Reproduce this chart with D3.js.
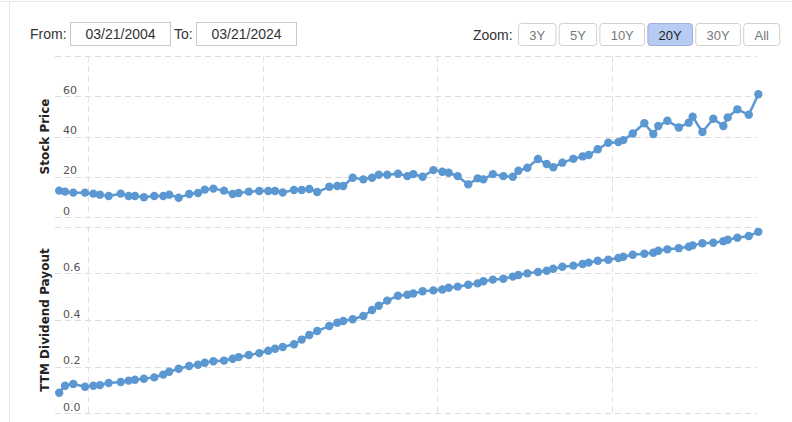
<!DOCTYPE html>
<html>
<head>
<meta charset="utf-8">
<script src="https://cdn.jsdelivr.net/npm/d3@7"></script>
<style>
  body { margin: 0; background: #fff; }
  svg { display: block; }
</style>
</head>
<body>
<script>
'use strict';

// dividend dates
var dates = [
    "2004-03-05","2004-05-05","2004-07-30","2004-11-30",
    "2005-02-25","2005-05-05","2005-08-04","2005-12-08",
    "2006-03-01","2006-05-06","2006-08-08","2006-11-24",
    "2007-02-26","2007-04-29","2007-08-06","2007-11-24",
    "2008-02-24","2008-05-05","2008-08-03","2008-11-22",
    "2009-02-21","2009-04-24","2009-08-08","2009-11-26",
    "2010-02-28","2010-05-10","2010-07-29","2010-11-24",
    "2011-02-13","2011-05-03","2011-07-25","2011-11-28",
    "2012-02-19","2012-04-22","2012-07-30","2012-11-18",
    "2013-02-17","2013-04-28","2013-07-26","2013-11-15",
    "2014-02-21","2014-04-24","2014-07-31","2014-11-20",
    "2015-02-22","2015-04-29","2015-08-01","2015-11-20",
    "2016-02-26","2016-04-26","2016-08-03","2016-11-21",
    "2017-02-28","2017-04-27","2017-07-30","2017-11-18",
    "2018-02-17","2018-04-27","2018-07-31","2018-11-23",
    "2019-02-28","2019-05-02","2019-08-05","2019-11-23",
    "2020-03-07","2020-04-28","2020-08-05","2020-12-04",
    "2021-03-08","2021-04-29","2021-08-02","2021-11-29",
    "2022-03-13","2022-04-23","2022-08-03","2022-11-25",
    "2023-03-10","2023-04-25","2023-08-04","2023-12-01",
    "2024-03-10"
];

var stockPrice = [
    13.1, 12.6, 12.1, 12.1, 11.6, 11.1, 10.4, 11.6, 10.4, 10.4,
    9.8, 10.4, 10.4, 11.1, 9.6, 11.4, 11.9, 13.6, 14.1, 13.1,
    11.4, 11.9, 12.6, 12.9, 12.9, 12.9, 12.2, 13.4, 13.4, 13.9,
    12.4, 15.0, 15.4, 15.4, 19.5, 18.7, 19.5, 21.0, 21.0, 21.5,
    20.3, 21.3, 20.0, 23.3, 22.5, 22.0, 20.3, 16.2, 19.2, 18.7,
    21.3, 20.3, 20.0, 23.0, 24.5, 28.8, 26.3, 24.7, 27.0, 28.9,
    30.1, 30.8, 33.7, 36.9, 37.2, 38.2, 41.5, 46.6, 41.2, 45.2,
    47.8, 44.5, 46.8, 49.8, 42.2, 48.8, 45.2, 49.5, 53.5, 50.8,
    61.0
];

var dividendPayout = [
    0.088, 0.118, 0.126, 0.114, 0.118, 0.121, 0.130, 0.134, 0.140, 0.144,
    0.148, 0.154, 0.166, 0.178, 0.191, 0.203, 0.208, 0.217, 0.223, 0.226,
    0.234, 0.241, 0.250, 0.258, 0.268, 0.277, 0.284, 0.296, 0.316, 0.336,
    0.353, 0.374, 0.388, 0.396, 0.403, 0.417, 0.443, 0.461, 0.483, 0.504,
    0.508, 0.514, 0.523, 0.527, 0.531, 0.538, 0.543, 0.551, 0.557, 0.566,
    0.573, 0.577, 0.586, 0.593, 0.600, 0.606, 0.611, 0.620, 0.628, 0.633,
    0.640, 0.646, 0.654, 0.658, 0.666, 0.671, 0.680, 0.684, 0.688, 0.697,
    0.703, 0.708, 0.714, 0.720, 0.729, 0.731, 0.738, 0.744, 0.753, 0.760,
    0.778
];

var priceGrid = [0, 20, 40, 60, 80];
var priceTicks = [0, 20, 40, 60];
var payoutGrid = [0, 0.2, 0.4, 0.6, 0.8];
var payoutTicks = [0, 0.2, 0.4, 0.6];
var yearGrid = ["2005-01-01", "2010-01-01", "2015-01-01", "2020-01-01"];

var zoomButtons = ["3Y", "5Y", "10Y", "20Y", "30Y", "All"];
var selectedZoom = "20Y";
var fromDate = "03/21/2004";
var toDate = "03/21/2024";

(function() {
    var width = 792;
    var height = 422;
    var svg = '';
    var parse = d3.utcParse('%Y-%m-%d');
    var blue = '#5b97d1';
    var left = 55, right = 757;

    window.onload = function() {
        svg = d3.select('body')
                .append('svg')
                .attr('width', width)
                .attr('height', height);

        makeFrame();
        makeControls();

        var x = d3.scaleTime()
                  .domain([parse('2004-01-21'), parse('2024-02-25')])
                  .range([left, right]);

        var yPrice = d3.scaleLinear().domain([0, 80]).range([217, 56]);
        var yPayout = d3.scaleLinear().domain([0, 0.8]).range([413.3, 226.7]);

        makePane(x, yPrice, priceGrid, priceTicks, stockPrice, 'Stock Price', d3.format('d'));
        makePane(x, yPayout, payoutGrid, payoutTicks, dividendPayout, 'TTM Dividend Payout', d3.format('.1f'));
    }

    function makeFrame() {
        svg.append('line')
            .attr('x1', 0).attr('x2', width)
            .attr('y1', 1.5).attr('y2', 1.5)
            .attr('stroke', '#e6e6e6');
        svg.append('line')
            .attr('x1', 9.5).attr('x2', 9.5)
            .attr('y1', 2).attr('y2', height)
            .attr('stroke', '#e6e6e6');
    }

    function makeControls() {
        var font = '"Liberation Sans", Arial, sans-serif';
        var c = svg.append('g').style('font-family', font);

        c.append('text').attr('x', 30).attr('y', 39)
            .style('font-size', '14px').attr('fill', '#333').text('From:');
        c.append('rect').attr('x', 70.5).attr('y', 22.5)
            .attr('width', 100).attr('height', 23)
            .attr('fill', '#fff').attr('stroke', '#c8c8c8');
        c.append('text').attr('x', 120.5).attr('y', 39)
            .attr('text-anchor', 'middle')
            .style('font-size', '14px').attr('fill', '#333').text(fromDate);

        c.append('text').attr('x', 174).attr('y', 39)
            .style('font-size', '14px').attr('fill', '#333').text('To:');
        c.append('rect').attr('x', 196.5).attr('y', 22.5)
            .attr('width', 100).attr('height', 23)
            .attr('fill', '#fff').attr('stroke', '#c8c8c8');
        c.append('text').attr('x', 246.5).attr('y', 39)
            .attr('text-anchor', 'middle')
            .style('font-size', '14px').attr('fill', '#333').text(toDate);

        c.append('text').attr('x', 473).attr('y', 40)
            .style('font-size', '14px').attr('fill', '#333').text('Zoom:');

        var bx = 518;
        zoomButtons.forEach(function(label) {
            var sel = label === selectedZoom;
            var b = c.append('g');
            var r = b.append('rect')
                .attr('y', 23.5).attr('height', 22)
                .attr('rx', 3).attr('ry', 3)
                .attr('fill', sel ? '#b8cbf3' : '#fff')
                .attr('stroke', sel ? '#9bb0de' : '#d0d0d0');
            var t = b.append('text')
                .attr('y', 39.5)
                .attr('text-anchor', 'middle')
                .style('font-size', '13px')
                .attr('fill', sel ? '#222' : '#777')
                .text(label);
            var w = t.node().getComputedTextLength() + 21.5;
            r.attr('x', bx + 0.5).attr('width', w);
            t.attr('x', bx + 0.5 + w / 2);
            bx += w + 3.3;
        });
    }

    function makePane(x, y, grid, ticks, values, title, fmt) {
        var g = svg.append('g');
        var top = y.range()[1], bottom = y.range()[0];

        g.selectAll('line.h')
            .data(grid)
            .enter()
            .append('line')
            .attr('class', 'h')
            .attr('x1', left).attr('x2', right)
            .attr('y1', (d) => Math.round(y(d)) + 0.5)
            .attr('y2', (d) => Math.round(y(d)) + 0.5)
            .attr('stroke', '#dcdcdc')
            .attr('stroke-dasharray', '6,4');

        g.selectAll('line.v')
            .data(yearGrid)
            .enter()
            .append('line')
            .attr('class', 'v')
            .attr('x1', (d) => Math.round(x(parse(d))) + 0.5)
            .attr('x2', (d) => Math.round(x(parse(d))) + 0.5)
            .attr('y1', top).attr('y2', bottom)
            .attr('stroke', '#e2e2e2')
            .attr('stroke-dasharray', '6,4');

        g.selectAll('text.tick')
            .data(ticks)
            .enter()
            .append('text')
            .attr('class', 'tick')
            .attr('x', 63)
            .attr('y', (d) => y(d) - 2.5)
            .style('font-family', '"DejaVu Sans", Verdana, sans-serif')
            .style('font-size', '11px')
            .attr('fill', '#555')
            .text((d) => fmt(d));

        var mid = (top + bottom) / 2;
        g.append('text')
            .attr('transform', 'translate(48.5,' + mid + ') rotate(-90)')
            .attr('text-anchor', 'middle')
            .style('font-family', '"DejaVu Sans", Verdana, sans-serif')
            .style('font-size', '12px')
            .style('font-weight', 'bold')
            .attr('fill', '#222')
            .text(title);

        var pts = values.map((v, i) => [x(parse(dates[i])), y(v)]);

        g.append('path')
            .datum(pts)
            .attr('fill', 'none')
            .attr('stroke', blue)
            .attr('stroke-width', 2.5)
            .attr('stroke-linejoin', 'round')
            .attr('d', d3.line());

        g.selectAll('circle')
            .data(pts)
            .enter()
            .append('circle')
            .attr('cx', (d) => d[0])
            .attr('cy', (d) => d[1])
            .attr('r', 4.2)
            .attr('fill', blue);
    }
})();
</script>
</body>
</html>
